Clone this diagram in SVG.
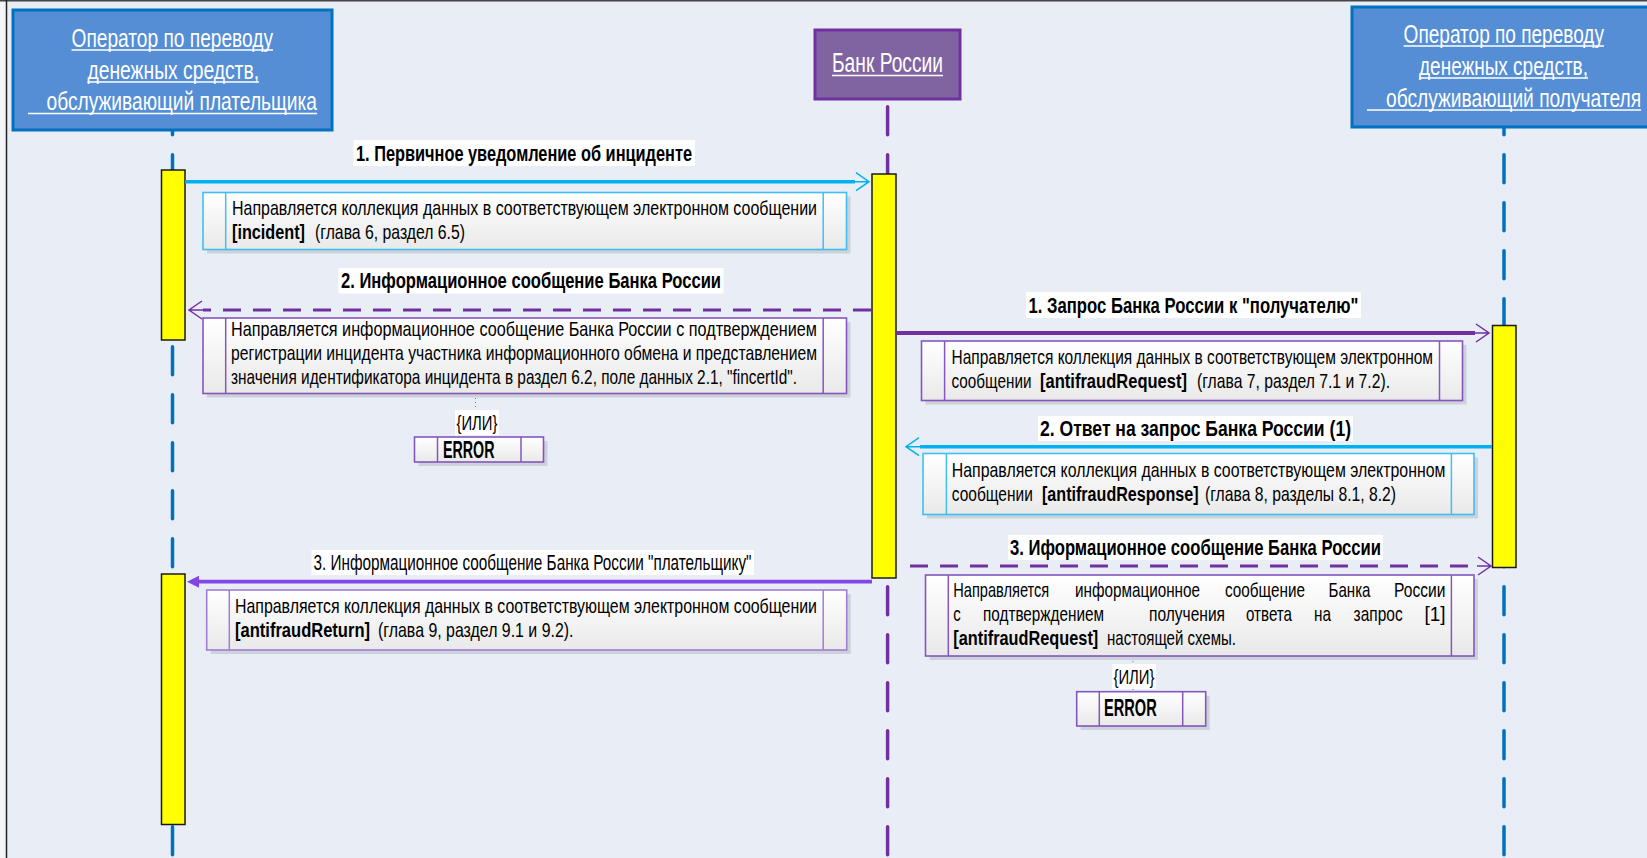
<svg xmlns="http://www.w3.org/2000/svg" width="1647" height="858" viewBox="0 0 1647 858">
<style>
text{font-family:"Liberation Sans Narrow","Liberation Sans",Arial,sans-serif;fill:#000}
.hdr{font-size:26px;fill:#fff}
.hdrm{font-size:28px;fill:#fff}
.ul{stroke:#fff;stroke-width:1.5}
.lbl{font-size:22.5px;font-weight:bold}
.lblr{font-size:22px}
.nt{font-size:20.5px}
.ntb{font-size:20.5px;font-weight:bold}
.err{font-size:23px;font-weight:bold}
.ili{font-size:21px}
.bg{fill:#fff}
.act{fill:#ffff00;stroke:#1a1a1a;stroke-width:1.5}
.ll{fill:none;stroke-width:3.5;stroke-linecap:round;stroke-dasharray:28 20}
.shadow{fill:#ccd1da}
.note{fill:url(#ng);stroke-width:1.6}
.cy{stroke:#3fc0f0}
.pu{stroke:#8556bd}
.pl{stroke:#a07ed6}
.sep{stroke-width:1.5}
.dot{stroke:#777;stroke-width:1;stroke-dasharray:1 3}
</style>
<defs>
<linearGradient id="ng" x1="0" y1="0" x2="0" y2="1">
<stop offset="0" stop-color="#ffffff"/>
<stop offset="1" stop-color="#e9e9e9"/>
</linearGradient>
<marker id="openC" markerUnits="userSpaceOnUse" markerWidth="20" markerHeight="20" refX="0" refY="0" orient="auto" overflow="visible">
<path d="M0,0 L14,0 M1,-9 L14,0 L1,9" fill="none" stroke="#00b0f0" stroke-width="1.5" stroke-dasharray="none"/>
</marker>
<marker id="openP" markerUnits="userSpaceOnUse" markerWidth="20" markerHeight="20" refX="0" refY="0" orient="auto" overflow="visible">
<path d="M0,0 L14,0 M1,-9 L14,0 L1,9" fill="none" stroke="#7030a0" stroke-width="1.5" stroke-dasharray="none"/>
</marker>
<marker id="fillV" markerUnits="userSpaceOnUse" markerWidth="20" markerHeight="20" refX="0" refY="0" orient="auto" overflow="visible">
<path d="M0,-6 L12,0 L0,6 Z" fill="#8246e6" stroke="none"/>
</marker>
</defs>

<rect x="0" y="0" width="1647" height="858" fill="#e9eef6"/>
<rect x="0" y="0" width="6" height="858" fill="#f3f4f6"/>
<line x1="0" y1="0.8" x2="1647" y2="0.8" stroke="#444" stroke-width="1.6"/>
<line x1="6.5" y1="0" x2="6.5" y2="858" stroke="#222" stroke-width="1.5"/>

<g id="lifelines">
<line class="ll" x1="172.5" y1="106.75" x2="172.5" y2="858" stroke="#0070c0"/>
<line class="ll" x1="887.6" y1="106.75" x2="887.6" y2="858" stroke="#7030a0"/>
<line class="ll" x1="1504" y1="106.75" x2="1504" y2="858" stroke="#0070c0"/>
</g>

<g id="payer">
<rect x="13" y="10" width="319" height="120" fill="#558ed5" stroke="#0070c0" stroke-width="3"/>
<text class="hdr" transform="translate(71.5 46.5) scale(0.72 1)" textLength="279.9" lengthAdjust="spacingAndGlyphs">Оператор по переводу</text>
<line class="ul" x1="71.5" y1="50" x2="273" y2="50"/>
<text class="hdr" transform="translate(87.5 78.5) scale(0.72 1)" textLength="238.2" lengthAdjust="spacingAndGlyphs">денежных средств,</text>
<line class="ul" x1="87.5" y1="82" x2="259" y2="82"/>
<text class="hdr" transform="translate(46.5 110) scale(0.72 1)" textLength="375.7" lengthAdjust="spacingAndGlyphs">обслуживающий плательщика</text>
<line class="ul" x1="28" y1="113.5" x2="317" y2="113.5"/>
<rect class="act" x="161.5" y="170" width="23.5" height="170"/>
<rect class="act" x="161.5" y="574" width="23.5" height="250.5"/>
</g>

<g id="bank">
<rect x="815" y="30" width="145" height="69" fill="#8064a2" stroke="#7030a0" stroke-width="3"/>
<text class="hdrm" transform="translate(832 72) scale(0.72 1)" textLength="154.2" lengthAdjust="spacingAndGlyphs">Банк России</text>
<line class="ul" x1="832" y1="75.5" x2="943" y2="75.5"/>
<rect class="act" x="872" y="174" width="24" height="404"/>
</g>

<g id="payee">
<rect x="1352" y="7" width="305" height="120" fill="#558ed5" stroke="#0070c0" stroke-width="3"/>
<text class="hdr" transform="translate(1403.6 42.5) scale(0.72 1)" textLength="278.3" lengthAdjust="spacingAndGlyphs">Оператор по переводу</text>
<line class="ul" x1="1403.6" y1="46" x2="1604" y2="46"/>
<text class="hdr" transform="translate(1419 74.5) scale(0.72 1)" textLength="234.7" lengthAdjust="spacingAndGlyphs">денежных средств,</text>
<line class="ul" x1="1419" y1="78" x2="1588" y2="78"/>
<text class="hdr" transform="translate(1386 106.5) scale(0.72 1)" textLength="354.2" lengthAdjust="spacingAndGlyphs">обслуживающий получателя</text>
<line class="ul" x1="1367" y1="110" x2="1641" y2="110"/>
<rect class="act" x="1492.5" y="325.5" width="23.5" height="242"/>
</g>

<g id="connectors">
<line x1="185" y1="181.7" x2="855" y2="181.7" stroke="#00b0f0" stroke-width="3.5" marker-end="url(#openC)"/>
<line x1="871" y1="310" x2="203" y2="310" stroke="#7030a0" stroke-width="3.2" stroke-dasharray="18 12" marker-end="url(#openP)"/>
<line x1="896" y1="333" x2="1475" y2="333" stroke="#7030a0" stroke-width="3.8" marker-end="url(#openP)"/>
<line x1="1492" y1="446.7" x2="920" y2="446.7" stroke="#00b0f0" stroke-width="3.5" marker-end="url(#openC)"/>
<line x1="910" y1="566" x2="1477" y2="566" stroke="#7030a0" stroke-width="3.2" stroke-dasharray="18 12" marker-end="url(#openP)"/>
<line x1="872" y1="581.7" x2="199" y2="581.7" stroke="#8246e6" stroke-width="3.8" marker-end="url(#fillV)"/>
<line class="dot" x1="475.5" y1="394" x2="475.5" y2="437"/>
<line class="dot" x1="1133" y1="657" x2="1133" y2="691.7"/>
</g>

<g id="label-m1">
<rect class="bg" x="353.5" y="140" width="341.5" height="26"/>
<text class="lbl" transform="translate(356 160.5) scale(0.7 1)" textLength="480" lengthAdjust="spacingAndGlyphs">1. Первичное уведомление об инциденте</text>
</g>
<g id="label-m2">
<rect class="bg" x="338.5" y="268" width="385" height="25.5"/>
<text class="lbl" transform="translate(341 288) scale(0.7 1)" textLength="542.9" lengthAdjust="spacingAndGlyphs">2. Информационное сообщение Банка России</text>
</g>
<g id="label-r1">
<rect class="bg" x="1026" y="292" width="335" height="26"/>
<text class="lbl" transform="translate(1028.5 312.5) scale(0.7 1)" textLength="471.4" lengthAdjust="spacingAndGlyphs">1. Запрос Банка России к "получателю"</text>
</g>
<g id="label-r2">
<rect class="bg" x="1038" y="416" width="315" height="25"/>
<text class="lbl" transform="translate(1040 436) scale(0.7 1)" textLength="444.3" lengthAdjust="spacingAndGlyphs">2. Ответ на запрос Банка России (1)</text>
</g>
<g id="label-r3">
<rect class="bg" x="1008" y="535" width="375" height="25"/>
<text class="lbl" transform="translate(1010 554.5) scale(0.7 1)" textLength="530" lengthAdjust="spacingAndGlyphs">3. Иформационное сообщение Банка России</text>
</g>
<g id="label-l3">
<rect class="bg" x="311.5" y="550" width="442.5" height="25"/>
<text class="lblr" transform="translate(313.5 570) scale(0.7 1)" textLength="625.7" lengthAdjust="spacingAndGlyphs">3. Информационное сообщение Банка России "плательщику"</text>
</g>

<g id="note-incident">
<rect class="shadow" x="207" y="196.5" width="643.5" height="57"/>
<rect class="note cy" x="203" y="192.5" width="643.5" height="57"/>
<line class="cy sep" x1="225.7" y1="192.5" x2="225.7" y2="249.5"/>
<line class="cy sep" x1="823.2" y1="192.5" x2="823.2" y2="249.5"/>
<text class="nt" transform="translate(232 215) scale(0.72 1)" textLength="812.5" lengthAdjust="spacingAndGlyphs">Направляется коллекция данных в соответствующем электронном сообщении</text>
<text class="ntb" transform="translate(232 239) scale(0.72 1)" textLength="101.4" lengthAdjust="spacingAndGlyphs">[incident]</text>
<text class="nt" transform="translate(315 239) scale(0.72 1)" textLength="208.3" lengthAdjust="spacingAndGlyphs">(глава 6, раздел 6.5)</text>
</g>

<g id="note-info">
<rect class="shadow" x="207" y="322" width="643.5" height="75.5"/>
<rect class="note pu" x="203" y="318" width="643.5" height="75.5"/>
<line class="pu sep" x1="225.7" y1="318" x2="225.7" y2="393.5"/>
<line class="pu sep" x1="823.2" y1="318" x2="823.2" y2="393.5"/>
<text class="nt" transform="translate(231 335.5) scale(0.72 1)" textLength="813.9" lengthAdjust="spacingAndGlyphs">Направляется информационное сообщение Банка России с подтверждением</text>
<text class="nt" transform="translate(231 359.5) scale(0.72 1)" textLength="813.9" lengthAdjust="spacingAndGlyphs">регистрации инцидента участника информационного обмена и представлением</text>
<text class="nt" transform="translate(231 383.5) scale(0.72 1)" textLength="786.1" lengthAdjust="spacingAndGlyphs">значения идентификатора инцидента в раздел 6.2, поле данных 2.1, "fincertId".</text>
</g>

<g id="ili-left">
<rect class="bg" x="455" y="410" width="44" height="25"/>
<text class="ili" transform="translate(456.5 430) scale(0.72 1)" textLength="56.9" lengthAdjust="spacingAndGlyphs">{ИЛИ}</text>
</g>
<g id="error-left">
<rect class="shadow" x="418.5" y="441" width="129" height="25"/>
<rect class="note pu" x="414.5" y="437" width="129" height="25"/>
<line class="pu sep" x1="437.5" y1="437" x2="437.5" y2="462"/>
<line class="pu sep" x1="521" y1="437" x2="521" y2="462"/>
<text class="err" transform="translate(443 457.5) scale(0.72 1)" textLength="71.5" lengthAdjust="spacingAndGlyphs">ERROR</text>
</g>

<g id="note-request">
<rect class="shadow" x="925.5" y="345" width="541" height="59.5"/>
<rect class="note pu" x="921.5" y="341" width="541" height="59.5"/>
<line class="pu sep" x1="944.6" y1="341" x2="944.6" y2="400.5"/>
<line class="pu sep" x1="1439.5" y1="341" x2="1439.5" y2="400.5"/>
<text class="nt" transform="translate(951.5 364) scale(0.72 1)" textLength="668.75" lengthAdjust="spacingAndGlyphs">Направляется коллекция данных в соответствующем электронном</text>
<text class="nt" transform="translate(951.5 388) scale(0.72 1)" textLength="111.1" lengthAdjust="spacingAndGlyphs">сообщении</text>
<text class="ntb" transform="translate(1040 388) scale(0.72 1)" textLength="204.2" lengthAdjust="spacingAndGlyphs">[antifraudRequest]</text>
<text class="nt" transform="translate(1197 388) scale(0.72 1)" textLength="268.1" lengthAdjust="spacingAndGlyphs">(глава 7, раздел 7.1 и 7.2).</text>
</g>

<g id="note-response">
<rect class="shadow" x="927" y="457.5" width="551" height="61"/>
<rect class="note cy" x="923" y="453.5" width="551" height="61"/>
<line class="cy sep" x1="946.4" y1="453.5" x2="946.4" y2="514.5"/>
<line class="cy sep" x1="1451.4" y1="453.5" x2="1451.4" y2="514.5"/>
<text class="nt" transform="translate(951.8 477) scale(0.72 1)" textLength="685.6" lengthAdjust="spacingAndGlyphs">Направляется коллекция данных в соответствующем электронном</text>
<text class="nt" transform="translate(951.8 501) scale(0.72 1)" textLength="112.5" lengthAdjust="spacingAndGlyphs">сообщении</text>
<text class="ntb" transform="translate(1042 501) scale(0.72 1)" textLength="217.4" lengthAdjust="spacingAndGlyphs">[antifraudResponse]</text>
<text class="nt" transform="translate(1205 501) scale(0.72 1)" textLength="265.3" lengthAdjust="spacingAndGlyphs">(глава 8, разделы 8.1, 8.2)</text>
</g>

<g id="note-confirm">
<rect class="shadow" x="929.5" y="579" width="548.5" height="81"/>
<rect class="note pu" x="925.5" y="575" width="548.5" height="81"/>
<line class="pu sep" x1="948.3" y1="575" x2="948.3" y2="656"/>
<line class="pu sep" x1="1451.4" y1="575" x2="1451.4" y2="656"/>
<text class="nt" transform="translate(953.3 596.5) scale(0.72 1)" textLength="133.3" lengthAdjust="spacingAndGlyphs">Направляется</text>
<text class="nt" transform="translate(1075 596.5) scale(0.72 1)" textLength="173.6" lengthAdjust="spacingAndGlyphs">информационное</text>
<text class="nt" transform="translate(1225 596.5) scale(0.72 1)" textLength="111.1" lengthAdjust="spacingAndGlyphs">сообщение</text>
<text class="nt" transform="translate(1328.5 596.5) scale(0.72 1)" textLength="58.3" lengthAdjust="spacingAndGlyphs">Банка</text>
<text class="nt" transform="translate(1394 596.5) scale(0.72 1)" textLength="71.4" lengthAdjust="spacingAndGlyphs">России</text>
<text class="nt" transform="translate(953.3 620.5) scale(0.72 1)" textLength="10.4" lengthAdjust="spacingAndGlyphs">с</text>
<text class="nt" transform="translate(983 620.5) scale(0.72 1)" textLength="168.1" lengthAdjust="spacingAndGlyphs">подтверждением</text>
<text class="nt" transform="translate(1149 620.5) scale(0.72 1)" textLength="105.6" lengthAdjust="spacingAndGlyphs">получения</text>
<text class="nt" transform="translate(1246 620.5) scale(0.72 1)" textLength="63.9" lengthAdjust="spacingAndGlyphs">ответа</text>
<text class="nt" transform="translate(1314 620.5) scale(0.72 1)" textLength="23.6" lengthAdjust="spacingAndGlyphs">на</text>
<text class="nt" transform="translate(1353.6 620.5) scale(0.72 1)" textLength="68.1" lengthAdjust="spacingAndGlyphs">запрос</text>
<text class="nt" transform="translate(1424.5 620.5) scale(0.72 1)" textLength="29.2" lengthAdjust="spacingAndGlyphs">[1]</text>
<text class="ntb" transform="translate(953.3 644.5) scale(0.72 1)" textLength="201.4" lengthAdjust="spacingAndGlyphs">[antifraudRequest]</text>
<text class="nt" transform="translate(1107 644.5) scale(0.72 1)" textLength="179.2" lengthAdjust="spacingAndGlyphs">настоящей схемы.</text>
</g>

<g id="ili-right">
<rect class="bg" x="1112" y="664" width="44" height="25"/>
<text class="ili" transform="translate(1113.5 684) scale(0.72 1)" textLength="56.9" lengthAdjust="spacingAndGlyphs">{ИЛИ}</text>
</g>
<g id="error-right">
<rect class="shadow" x="1080.7" y="695.7" width="129" height="34.3"/>
<rect class="note pu" x="1076.7" y="691.7" width="129" height="34.3"/>
<line class="pu sep" x1="1099.3" y1="691.7" x2="1099.3" y2="726"/>
<line class="pu sep" x1="1182.7" y1="691.7" x2="1182.7" y2="726"/>
<text class="err" transform="translate(1104 716) scale(0.72 1)" textLength="73.2" lengthAdjust="spacingAndGlyphs">ERROR</text>
</g>

<g id="note-return">
<rect class="shadow" x="210.7" y="594" width="640" height="60"/>
<rect class="note pl" x="206.7" y="590" width="640" height="60"/>
<line class="pl sep" x1="229.3" y1="590" x2="229.3" y2="650"/>
<line class="pl sep" x1="823.2" y1="590" x2="823.2" y2="650"/>
<text class="nt" transform="translate(235 613) scale(0.72 1)" textLength="808.3" lengthAdjust="spacingAndGlyphs">Направляется коллекция данных в соответствующем электронном сообщении</text>
<text class="ntb" transform="translate(235 637) scale(0.72 1)" textLength="187.5" lengthAdjust="spacingAndGlyphs">[antifraudReturn]</text>
<text class="nt" transform="translate(378 637) scale(0.72 1)" textLength="271.5" lengthAdjust="spacingAndGlyphs">(глава 9, раздел 9.1 и 9.2).</text>
</g>
</svg>
